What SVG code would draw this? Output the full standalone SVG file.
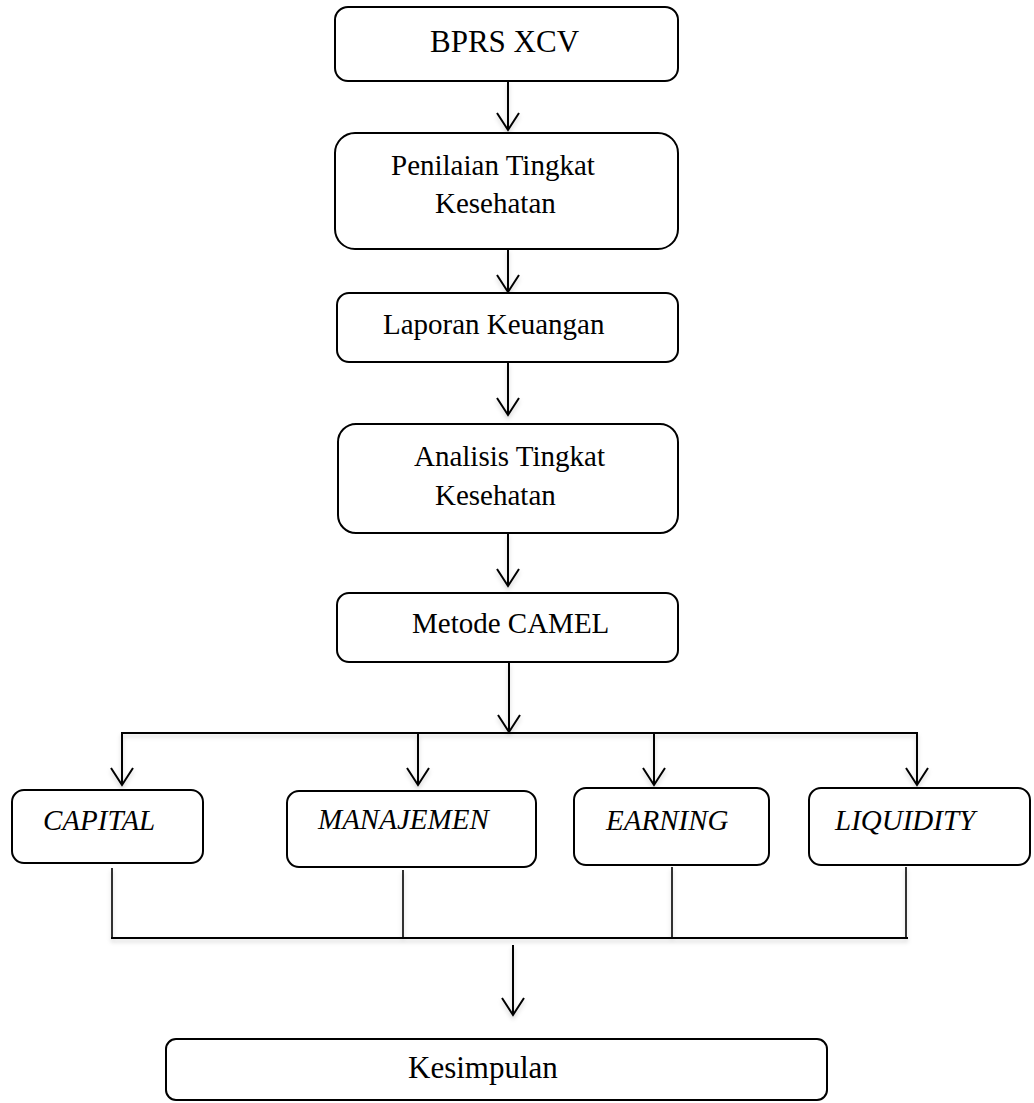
<svg xmlns="http://www.w3.org/2000/svg" width="1034" height="1103" viewBox="0 0 1034 1103">
<style>
.box{fill:#fff;stroke:#000;stroke-width:2}
.t{font-family:"Liberation Serif","Times New Roman",serif;font-size:29px;fill:#000}
.i{font-style:italic}
.c{fill:none;stroke:#000;stroke-width:2}
.j{fill:none;stroke:#000;stroke-width:1.6}
</style>
<defs>
<marker id="arr" viewBox="-1 -12 20 24" refX="17" refY="0" markerWidth="20" markerHeight="24" markerUnits="userSpaceOnUse" orient="auto">
<path d="M0,-11 L17,0 L0,11" fill="none" stroke="#000" stroke-width="2"/>
</marker>
<filter id="sh" x="-10%" y="-10%" width="120%" height="140%">
<feDropShadow dx="0" dy="3" stdDeviation="2" flood-color="#000" flood-opacity="0.18"/>
</filter>
</defs>
<rect width="1034" height="1103" fill="#fff"/>
<g id="connectors" filter="url(#sh)">
<line class="c" x1="508" y1="81" x2="508" y2="130" marker-end="url(#arr)"/>
<line class="c" x1="508" y1="249" x2="508" y2="292" marker-end="url(#arr)"/>
<line class="c" x1="508" y1="362" x2="508" y2="415" marker-end="url(#arr)"/>
<line class="c" x1="508" y1="533" x2="508" y2="586" marker-end="url(#arr)"/>
<line class="c" x1="509" y1="662" x2="509" y2="732" marker-end="url(#arr)"/>
<line class="c" x1="121" y1="733" x2="918" y2="733"/>
<line class="c" x1="122" y1="733" x2="122" y2="785" marker-end="url(#arr)"/>
<line class="c" x1="418" y1="733" x2="418" y2="785" marker-end="url(#arr)"/>
<line class="c" x1="654" y1="733" x2="654" y2="785" marker-end="url(#arr)"/>
<line class="c" x1="917" y1="733" x2="917" y2="785" marker-end="url(#arr)"/>
<line class="j" x1="112" y1="868" x2="112" y2="938"/>
<line class="j" x1="403" y1="870" x2="403" y2="938"/>
<line class="j" x1="672" y1="867" x2="672" y2="938"/>
<line class="j" x1="906" y1="867" x2="906" y2="938"/>
<line class="c" x1="111" y1="938" x2="908" y2="938"/>
<line class="c" x1="513" y1="945" x2="513" y2="1015" marker-end="url(#arr)"/>
</g>
<g id="n-bprs"><rect class="box" x="335" y="7" width="343" height="74" rx="13"/><text class="t" x="430" y="52" style="font-size:31px">BPRS XCV</text></g>
<g id="n-penilaian"><rect class="box" x="335" y="133" width="343" height="116" rx="20"/><text class="t" x="391" y="175">Penilaian Tingkat</text><text class="t" x="435" y="213">Kesehatan</text></g>
<g id="n-laporan"><rect class="box" x="337" y="293" width="341" height="69" rx="12"/><text class="t" x="383" y="334">Laporan Keuangan</text></g>
<g id="n-analisis"><rect class="box" x="338" y="424" width="340" height="109" rx="18"/><text class="t" x="414" y="466">Analisis Tingkat</text><text class="t" x="435" y="505">Kesehatan</text></g>
<g id="n-camel"><rect class="box" x="337" y="593" width="341" height="69" rx="12"/><text class="t" x="412" y="633">Metode CAMEL</text></g>
<g id="n-capital"><rect class="box" x="12" y="790" width="191" height="73" rx="12"/><text class="t i" x="43" y="830">CAPITAL</text></g>
<g id="n-manajemen"><rect class="box" x="287" y="791" width="249" height="76" rx="12"/><text class="t i" x="318" y="829">MANAJEMEN</text></g>
<g id="n-earning"><rect class="box" x="574" y="788" width="195" height="77" rx="12"/><text class="t i" x="606" y="830">EARNING</text></g>
<g id="n-liquidity"><rect class="box" x="809" y="788" width="221" height="77" rx="12"/><text class="t i" x="835" y="830">LIQUIDITY</text></g>
<g id="n-kesimpulan"><rect class="box" x="166" y="1039" width="661" height="61" rx="10"/><text class="t" x="408" y="1078" style="font-size:31px">Kesimpulan</text></g>
</svg>
